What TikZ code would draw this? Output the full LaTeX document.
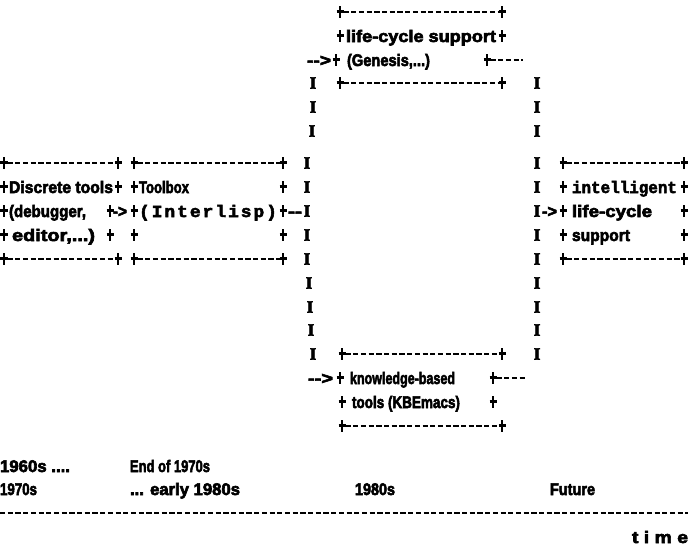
\documentclass[tikz,border=0pt]{standalone}
\usepackage{fontspec}
\newfontfamily\dmfont{Liberation Sans}[Ligatures=TeXOff, BoldFeatures={FakeBold=3.5}]
\newfontfamily\dmmono{Liberation Mono}[Ligatures=TeXOff, BoldFeatures={FakeBold=3}]
\newfontfamily\barfont{Liberation Serif}[Ligatures=TeXOff, BoldFeatures={FakeBold=3}]
% squeeze or stretch a piece of text to a given width; letters taller than normal
\newcommand\fitw[2]{\resizebox{#1pt}{1.2\height}{#2}}
% the printer's corner / side mark: a heavy upright with a short crossbar
\newcommand\crossmark{\makebox[7pt][c]{\rule[-5.8pt]{2.8pt}{11.6pt}}\llap{\rule[-0.6pt]{7pt}{2.3pt}}}

\begin{document}
\begin{tikzpicture}[x=1pt,y=-1pt,
  txt/.style={font=\dmfont\bfseries\fontsize{14}{14}\selectfont, inner sep=0pt, outer sep=0pt,
              anchor=base west, yshift=-6pt},
  bar/.style={font=\barfont\bfseries\fontsize{17}{17}\selectfont, inner sep=0pt,
              anchor=base, yshift=-5.6pt},
  crn/.style={inner sep=0pt, outer sep=0pt, anchor=center},
  dl/.style={line width=2.2pt, dash pattern=on 5.2pt off 2.5pt},
]
\fill[white] (0,0) rectangle (688,558);
\useasboundingbox (0,0) rectangle (688,558);

% ---------- life-cycle support (Genesis) ----------
\node[crn] (g0l) at (340,12) {\crossmark};
\node[crn] (g0r) at (502,12) {\crossmark};
\draw[dl] (g0l.east) -- (g0r.west);
\node[crn] (g1l) at (340,36) {\crossmark};
\node[txt] (g1t) at (346,36) {\fitw{150}{life-cycle support}};
\node[crn] (g1r) at (502,36) {\crossmark};
\node[txt] (g2a) at (307,60) {\fitw{24}{-{}->}};
\node[crn] (g2l) at (336,60) {\crossmark};
\node[txt] (g2t) at (347,60) {\fitw{83}{(Genesis,...)}};
\node[crn] (g2r) at (487,60) {\crossmark};
\coordinate (g2e) at (523,60);
\draw[dl] (g2r.east) -- (g2e);
\node[crn] (g3l) at (340,83) {\crossmark};
\node[crn] (g3r) at (502,83) {\crossmark};
\draw[dl] (g3l.east) -- (g3r.west);

% ---------- Discrete tools ----------
\node[crn] (d6l) at (4,163) {\crossmark};
\node[crn] (d6r) at (118,163) {\crossmark};
\draw[dl] (d6l.east) -- (d6r.west);
\node[crn] (d7l) at (4,187) {\crossmark};
\node[txt] (d7t) at (9,187) {\fitw{104}{Discrete tools}};
\node[crn] (d7r) at (118,187) {\crossmark};
\node[crn] (d8l) at (4,211) {\crossmark};
\node[txt] (d8t) at (9,211) {\fitw{77}{(debugger,}};
\node[crn] (d8r) at (110,211) {\crossmark};
\node[crn] (d9l) at (4,235) {\crossmark};
\node[txt] (d9t) at (12,235) {\fitw{83}{editor,...)}};
\node[crn] (d9r) at (110,235) {\crossmark};
\node[crn] (d10l) at (4,259) {\crossmark};
\node[crn] (d10r) at (118,259) {\crossmark};
\draw[dl] (d10l.east) -- (d10r.west);

% ---------- Toolbox (Interlisp) ----------
\node[crn] (t6l) at (134,163) {\crossmark};
\node[crn] (t6r) at (283,163) {\crossmark};
\draw[dl] (t6l.east) -- (t6r.west);
\node[crn] (t7l) at (134,187) {\crossmark};
\node[txt] (t7t) at (139,187) {\fitw{50}{Toolbox}};
\node[crn] (t7r) at (283,187) {\crossmark};
\node[txt] (t8a) at (113,211) {\fitw{14}{->}};
\node[crn] (t8l) at (134,211) {\crossmark};
\node[txt] (t8t) at (139,211)
  {\fitw{138}{\dmmono\bfseries\makebox[108pt][s]{(\hfil I\hfil n\hfil t\hfil e\hfil r\hfil l\hfil i\hfil s\hfil p\hfil )}}};
\node[crn] (t8r) at (283,211) {\crossmark};
\node[txt] (t8b) at (288,211) {\fitw{14}{-{}-}};
\node[crn] (t9l) at (134,235) {\crossmark};
\node[crn] (t9r) at (283,235) {\crossmark};
\node[crn] (t10l) at (134,259) {\crossmark};
\node[crn] (t10r) at (283,259) {\crossmark};
\draw[dl] (t10l.east) -- (t10r.west);

% ---------- intelligent life-cycle support ----------
\node[crn] (i6l) at (563,163) {\crossmark};
\node[crn] (i6r) at (684,163) {\crossmark};
\draw[dl] (i6l.east) -- (i6r.west);
\node[crn] (i7l) at (563,187) {\crossmark};
\node[txt] (i7t) at (572,187) {\fitw{105}{\dmmono\bfseries intelligent}};
\node[crn] (i7r) at (684,187) {\crossmark};
\node[txt] (i8a) at (542,211) {\fitw{15}{->}};
\node[crn] (i8l) at (563,211) {\crossmark};
\node[txt] (i8t) at (572,211) {\fitw{80}{life-cycle}};
\node[crn] (i8r) at (684,211) {\crossmark};
\node[crn] (i9l) at (563,235) {\crossmark};
\node[txt] (i9t) at (572,235) {\fitw{58}{support}};
\node[crn] (i9r) at (684,235) {\crossmark};
\node[crn] (i10l) at (563,259) {\crossmark};
\node[crn] (i10r) at (684,259) {\crossmark};
\draw[dl] (i10l.east) -- (i10r.west);

% ---------- knowledge-based tools (KBEmacs) ----------
\node[crn] (k14l) at (342,354) {\crossmark};
\node[crn] (k14r) at (502,354) {\crossmark};
\draw[dl] (k14l.east) -- (k14r.west);
\node[txt] (k15a) at (308,378) {\fitw{25}{-{}->}};
\node[crn] (k15l) at (340,378) {\crossmark};
\node[txt] (k15t) at (350,378) {\fitw{105}{knowledge-based}};
\node[crn] (k15r) at (493,378) {\crossmark};
\coordinate (k15e) at (526,378);
\draw[dl] (k15r.east) -- (k15e);
\node[crn] (k16l) at (342,402) {\crossmark};
\node[txt] (k16t) at (352,402) {\fitw{108}{tools (KBEmacs)}};
\node[crn] (k16r) at (493,402) {\crossmark};
\node[crn] (k17l) at (342,426) {\crossmark};
\node[crn] (k17r) at (502,426) {\crossmark};
\draw[dl] (k17l.east) -- (k17r.west);

% ---------- vertical rails ----------
\foreach \y/\x [count=\i] in {83/313,107/313,131/312,163/307,187/307,211/307,235/307,259/307,283/309,307/310,330/311,354/313}
  \node[bar] (lv\i) at (\x,\y) {I};
\foreach \y [count=\i] in {83,107,131,163,187,211,235,259,283,307,330,354}
  \node[bar] (rv\i) at (537,\y) {I};

% ---------- time axis ----------
\node[txt] (y1) at (0,466) {\fitw{70}{1960s ....}};
\node[txt] (y2) at (130,466) {\fitw{80}{End of 1970s}};
\node[txt] (y3) at (0,489) {\fitw{37}{1970s}};
\node[txt] (y4) at (130,489) {\fitw{110}{... early 1980s}};
\node[txt] (y5) at (355,489) {\fitw{40}{1980s}};
\node[txt] (y6) at (550,489) {\fitw{45}{Future}};
\coordinate (ax0) at (0,513);
\coordinate (ax1) at (688,513);
\draw[dl] (ax0) -- (ax1);
\node[txt] (tm) at (632,537) {\fitw{56}{t i m e}};
\end{tikzpicture}
\end{document}
